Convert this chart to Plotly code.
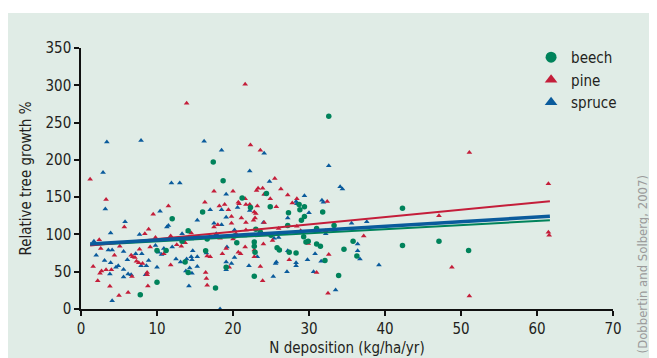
import plotly.graph_objects as go

# ---- data ----
beech_x = [32.6, 17.4, 18.7, 21.2, 16.0, 12.0, 24.9, 22.3, 27.3, 28.7, 28.8, 29.4, 31.8, 29.4, 29.0,
           27.2, 31.0, 33.3, 42.3, 14.1, 13.3, 16.6, 16.4, 13.7, 14.1, 10.0, 11.2, 10.0, 7.8, 17.7,
           19.1, 20.5, 22.8, 22.8, 22.9, 22.8, 23.0, 23.6, 25.8, 26.1, 27.4, 28.3, 29.3, 29.6, 29.9,
           31.0, 31.5, 32.1, 33.9, 34.6, 35.8, 36.3, 42.3, 47.1, 51.0, 20.2, 24.4, 25.0]
beech_y = [258.5, 197, 172, 149, 130, 121, 137, 136, 129, 140, 133, 137, 130, 124, 119,
           112, 108, 112, 135, 105, 91, 94, 78, 63, 49, 78.5, 78.5, 36, 19, 28,
           56, 89, 84, 90, 76, 44, 107, 103, 82, 79, 76, 75, 97, 90, 91,
           87, 84, 65, 45, 80, 91, 71, 85, 91, 78.5, 98, 155, 99]

pine_x = [1.2, 3.3, 1.6, 2.4, 2.6, 2.2, 2.5, 2.7, 3.3, 4.0, 3.8, 4.4, 5.0, 5.7, 5.1, 6.2, 6.6, 6.8,
          6.7, 7.1, 7.3, 7.6, 7.7, 8.1, 8.4, 8.7, 8.7, 8.9, 8.8, 9.1, 9.5, 9.8, 10.9, 11.5, 11.8,
          11.8, 12.6, 13.2, 13.7, 13.9, 14.5, 16.3, 16.4, 16.5, 16.6, 16.6, 17.0, 17.5, 17.5, 18.0,
          18.2, 18.6, 18.9, 19.1, 19.5, 19.4, 19.8, 19.8, 20.0, 20.0, 20.7, 20.8, 21.1, 20.7, 21.0,
          21.6, 21.6, 21.7, 21.7, 21.7, 21.6, 22.3, 22.2, 22.7, 22.8, 22.9, 23.1, 23.3, 23.2, 23.6,
          23.6, 23.6, 23.9, 23.9, 24.0, 24.1, 24.1, 22.8, 22.8, 24.9, 25.5, 25.7, 26.0, 26.3, 27.2,
          27.4, 27.8, 28.4, 28.4, 28.9, 29.9, 31.0, 32.4, 32.2, 32.5, 32.6, 37.2, 47.1, 48.8, 51.1,
          51.1, 61.5, 61.5, 61.6, 18.3, 20.4, 23.0, 25.2]
pine_y = [174, 147, 57, 93, 81, 38, 48, 51, 52.5, 52.5, 30.5, 72, 18, 110, 84, 22, 72, 70,
          43.5, 69, 64, 62, 80, 61, 101, 49, 46, 107, 31, 83, 127, 96, 74, 138, 59,
          98, 86, 84, 89, 276, 102, 143, 49, 41, 32, 71, 70, 158, 110, 113,
          138, 74, 140, 81, 56, 133, 124, 115, 158, 94, 143, 141, 122, 76, 74,
          301.5, 148, 140, 116, 106, 83, 220, 140, 119, 130, 122, 159, 162, 138, 213,
          105, 57, 162, 38, 87, 154, 116, 79, 70, 148, 175, 137, 108, 161, 153,
          66, 142, 148, 111, 105, 88, 49, 144, 105, 21, 73, 98, 125, 56, 210,
          17.5, 168, 103, 99, 95, 101, 128, 92]

spruce_x = [3.4, 7.9, 16.2, 18.5, 24.1, 2.9, 22.2, 32.6, 11.9, 13.0, 3.2, 5.8, 3.9, 7.7, 10.4, 11.5,
            11.3, 15.3, 17.0, 17.5, 18.5, 18.5, 19.1, 20.6, 19.1, 20.2, 22.2, 24.0, 24.2, 24.8, 25.4,
            27.2, 28.3, 28.4, 29.4, 30.0, 31.7, 31.9, 32.2, 34.1, 34.4, 35.6, 37.6, 36.4, 36.4, 36.7,
            39.2, 33.5, 31.6, 30.6, 30.8, 29.8, 28.3, 28.3, 27.1, 27.2, 25.7, 25.6, 25.3, 22.1, 23.2,
            19.8, 20.2, 19.1, 19.1, 19.2, 18.3, 17.8, 16.5, 15.3, 15.3, 14.7, 14.5, 14.3, 14.6, 14.2,
            14.6, 13.9, 13.8, 13.1, 12.5, 12.0, 10.9, 10.6, 10.0, 10.2, 9.8, 8.9, 8.6, 8.5, 7.9,
            8.0, 7.2, 6.1, 6.2, 6.6, 5.6, 5.6, 4.9, 4.6, 3.8, 3.9, 3.6, 4.1, 3.1, 2.0, 1.7,
            4.1, 5.6, 13.3, 14.1, 14.5, 16.9, 21.5, 26.0, 23.8]
spruce_y = [224, 226, 225, 213, 209, 183, 185, 192, 169, 169, 134, 117, 102, 100, 131, 112,
            110, 119, 133, 115, 113, 133, 154, 136, 123, 106, 132, 116, 154, 171, 95,
            122, 144, 141, 152, 129, 146, 143, 101, 164, 161, 115, 117, 87, 78, 67,
            59, 25.5, 64, 50, 74, 66, 58, 62, 50, 78, 63, 61, 43.5, 58, 70,
            61, 69, 63, 52.5, 83, 0, 101, 75, 70, 57, 78, 70, 55, 48, 31,
            66, 67, 51, 63, 67, 83, 81, 73, 56, 76, 85, 65, 58, 46, 58,
            74, 74, 66, 47, 46, 43, 53, 58, 56, 47, 62, 79, 79, 65, 72, 91,
            11, 77, 101, 104, 94, 96, 98, 96, 100]

# regression lines (intercept, slope) and x-extent
line_x_range = [1.2, 61.7]
beech_fit = [85.3, 0.545]
pine_fit = [83.9, 0.983]
spruce_fit = [86.3, 0.617]

x_ticks = [0, 10, 20, 30, 40, 50, 60, 70]
y_ticks = [0, 50, 100, 150, 200, 250, 300, 350]

C_BEECH = "#00835b"
C_PINE = "#c41e3a"
C_SPRUCE = "#0a5b9c"
BG = "#e0ece6"
FONT = "DejaVu Sans Condensed, Liberation Sans Narrow, sans-serif"

fig = go.Figure()

def fit_line(fit):
    return [fit[0] + fit[1] * x for x in line_x_range]

fig.add_trace(go.Scatter(x=spruce_x, y=spruce_y, mode="markers", showlegend=False,
                         marker=dict(symbol="triangle-up", size=5, color=C_SPRUCE)))
fig.add_trace(go.Scatter(x=pine_x, y=pine_y, mode="markers", showlegend=False,
                         marker=dict(symbol="triangle-up", size=5, color=C_PINE)))
fig.add_trace(go.Scatter(x=beech_x, y=beech_y, mode="markers", showlegend=False,
                         marker=dict(symbol="circle", size=5.5, color=C_BEECH)))

fig.add_trace(go.Scatter(x=line_x_range, y=fit_line(beech_fit), mode="lines", showlegend=False,
                         line=dict(color=C_BEECH, width=2)))
fig.add_trace(go.Scatter(x=line_x_range, y=fit_line(pine_fit), mode="lines", showlegend=False,
                         line=dict(color=C_PINE, width=2)))
fig.add_trace(go.Scatter(x=line_x_range, y=fit_line(spruce_fit), mode="lines", showlegend=False,
                         line=dict(color=C_SPRUCE, width=3.5)))

# legend entries
for name, sym, col in [("beech", "circle", C_BEECH), ("pine", "triangle-up", C_PINE),
                       ("spruce", "triangle-up", C_SPRUCE)]:
    fig.add_trace(go.Scatter(x=[None], y=[None], mode="markers", name=name,
                             marker=dict(symbol=sym, size=11, color=col)))

fig.add_shape(type="rect", xref="paper", yref="paper", x0=-0.2, x1=1.2, y0=-0.3, y1=1.134,
              fillcolor=BG, line=dict(width=0), layer="below")

axis_common = dict(showline=True, linecolor="#111111", linewidth=1.5, ticks="outside",
                   ticklen=5, tickwidth=1.5, tickcolor="#111111", showgrid=False, zeroline=False,
                   automargin=False,
                   tickfont=dict(family=FONT, size=15, color="#231f20"))

fig.update_xaxes(range=[0, 70], tickvals=x_ticks, title=dict(text="N deposition (kg/ha/yr)",
                 font=dict(family=FONT, size=15, color="#231f20"), standoff=6), **axis_common)
fig.update_yaxes(range=[0, 350], tickvals=y_ticks, title=dict(text="Relative tree growth %",
                 font=dict(family=FONT, size=15, color="#231f20"), standoff=10), **axis_common)

fig.add_annotation(text="(Dobbertin and Solberg, 2007)", xref="paper", yref="paper",
                   x=1.056, y=0.17, xanchor="center", yanchor="middle",
                   textangle=-90, showarrow=False,
                   font=dict(family=FONT, size=13, color="#9a9a9a"))

# the page body adds an 8px offset, so the figure is 8px smaller than the window
fig.update_layout(
    width=649, height=350,
    margin=dict(l=73, r=44, t=40, b=49, autoexpand=False),
    paper_bgcolor="white", plot_bgcolor=BG,
    font=dict(family=FONT, color="#231f20"),
    legend=dict(x=0.846, y=1.027, xanchor="left", yanchor="top", bgcolor="rgba(0,0,0,0)",
                font=dict(family=FONT, size=15), itemwidth=30, tracegroupgap=0),
)

fig.write_html("out.html")
